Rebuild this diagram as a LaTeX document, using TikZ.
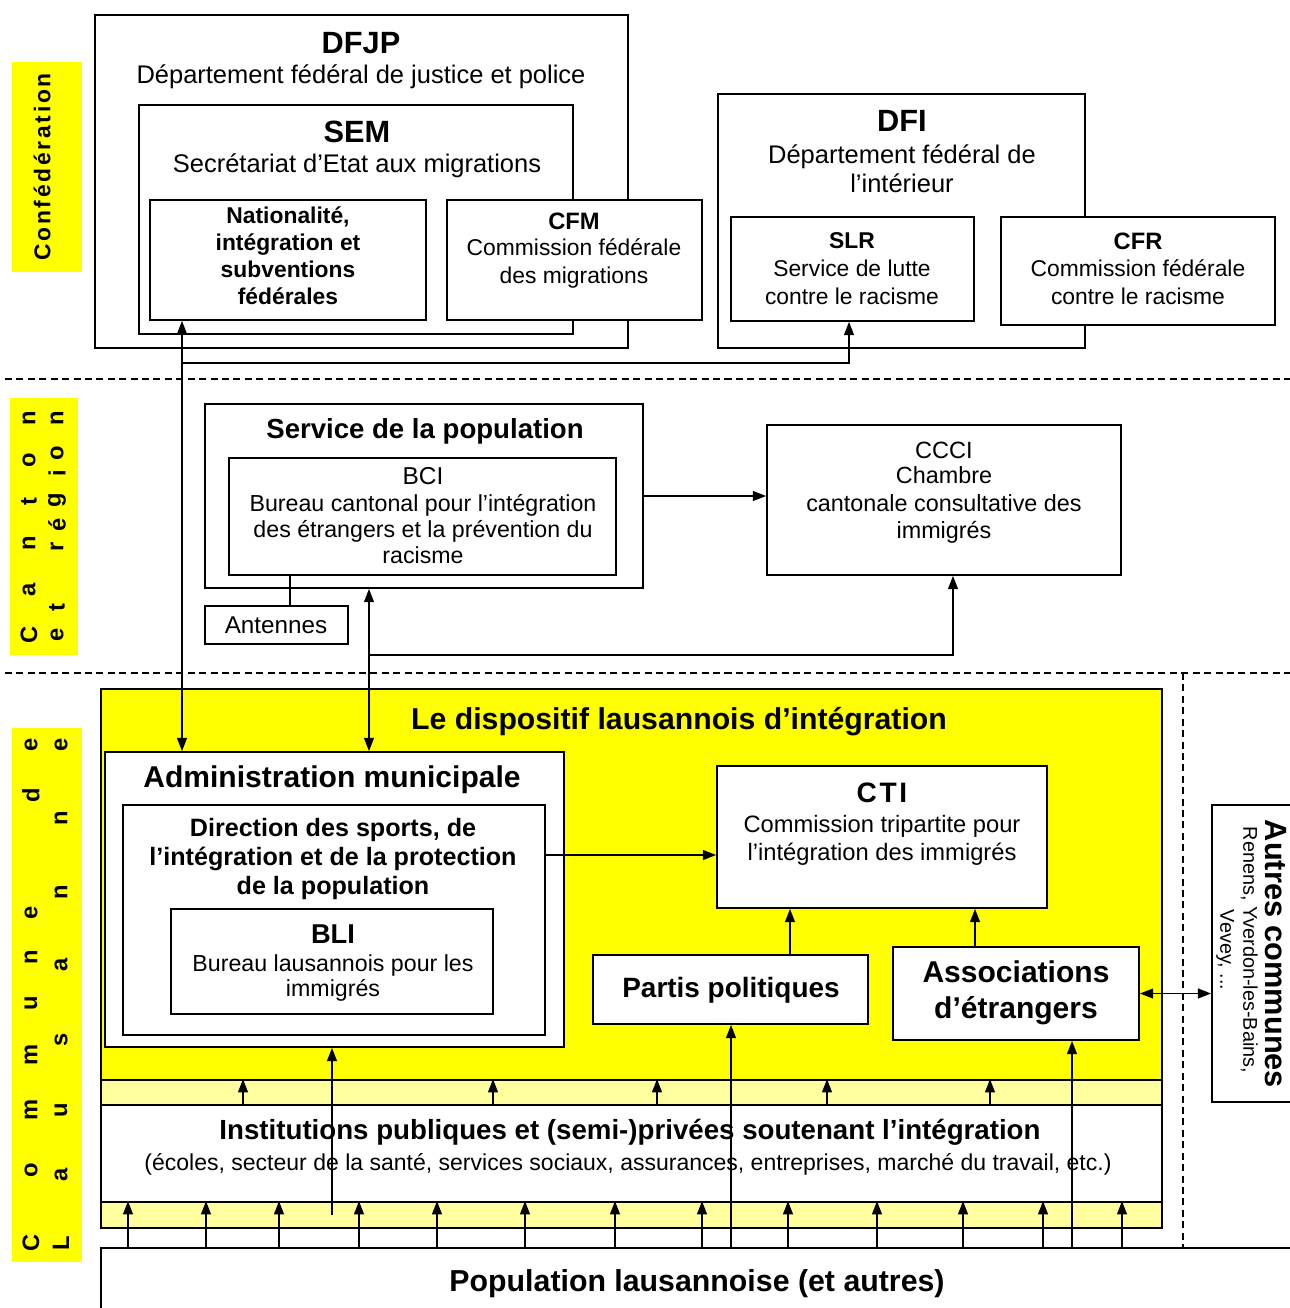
\documentclass[tikz,border=0pt]{standalone}
\usepackage{fontspec}
\setmainfont{Liberation Sans}
\usetikzlibrary{arrows.meta,fit}
\definecolor{yel}{RGB}{255,255,0}
\definecolor{paleyel}{RGB}{255,255,160}
\newcommand\myreg[2]{\fontsize{#1}{#2}\selectfont}
\newcommand\mybold[2]{\bfseries\fontsize{#1}{#2}\selectfont}
\begin{document}
\begin{tikzpicture}[x=0.02cm,y=-0.02cm,
 bx/.style={draw, line width=1pt, inner sep=0pt, fill=white},
 tx/.style={inner sep=0pt, align=center},
 arr/.style={line width=0.85pt, -{Triangle[length=7.5pt,width=5.6pt]}},
 darr/.style={line width=0.85pt, {Triangle[length=7.5pt,width=5.6pt]}-{Triangle[length=7.5pt,width=5.6pt]}},
 ln/.style={line width=0.85pt},
 sep/.style={line width=0.8pt, dash pattern=on 4pt off 2.5pt},
 lbl/.style={inner sep=0pt, rotate=90, font=\mybold{13.5}{15}},
]
\useasboundingbox (0,0) rectangle (1290,1308);
\fill[white] (0,0) rectangle (1290,1308);

% ---- level labels
\fill[yel] (12,62) rectangle (82,272);
\fill[yel] (10,398) rectangle (78,655);
\fill[yel] (12,728) rectangle (82,1262);
\node[lbl, font=\mybold{13}{15}\addfontfeature{LetterSpace=12}] (conf) at (42,167) {Confédération};
\foreach \c/\y [count=\i] in {C/635,a/590,n/543,t/502,o/460,n/418}
  \node[lbl] (cant\i) at (29,\y) {\c};
\foreach \c/\y [count=\i] in {e/635,t/608,r/547,é/525,g/500,i/473,o/453,n/418}
  \node[lbl] (reg\i) at (57,\y) {\c};
\foreach \c/\y [count=\i] in {C/1243,o/1170,m/1110,m/1055,u/1003,n/957,e/913,d/795,e/745}
  \node[lbl] (com\i) at (31,\y) {\c};
\foreach \c/\y [count=\i] in {L/1243,a/1175,u/1110,s/1040,a/965,n/892,n/818,e/745}
  \node[lbl] (lau\i) at (61,\y) {\c};

% ---- Confederation boxes
\node[bx, fit={(95,15) (628,348)}] (dfjp) {};
\node[bx, fit={(139,105) (573,334)}] (sem) {};
\node[bx, fit={(150,200) (426,320)}] (nat) {};
\node[bx, fit={(447,200) (702,320)}] (cfm) {};
\node[bx, fit={(718,94) (1085,348)}] (dfi) {};
\node[bx, fit={(731,217) (974,321)}] (slr) {};
\node[bx, fit={(1001,217) (1275,325)}] (cfr) {};

\node[tx,font=\mybold{17.5}{20}] (dfjpT) at (361,43) {DFJP};
\node[tx,font=\myreg{14.5}{17}] (dfjpS) at (361,77) {Département fédéral de justice et police};
\node[tx,font=\mybold{17.5}{20}] (semT) at (357,132) {SEM};
\node[tx,font=\myreg{14.5}{17}] (semS) at (357,166) {Secrétariat d'Etat aux migrations};
\node[tx,font=\mybold{13}{15.3}] (natT) at (288,256) {Nationalité,\\intégration et\\subventions\\fédérales};
\node[tx,font=\mybold{13.5}{16}] (cfmT) at (574,221) {CFM};
\node[tx,font=\myreg{13}{15.9}] (cfmS) at (574,263) {Commission fédérale\\des migrations};
\node[tx,font=\mybold{17.5}{20}] (dfiT) at (902,121) {DFI};
\node[tx,font=\myreg{14.5}{16.4}] (dfiS) at (902,169) {Département fédéral de\\l'intérieur};
\node[tx,font=\mybold{13}{15}] (slrT) at (852,241) {SLR};
\node[tx,font=\myreg{13}{15.9}] (slrS) at (852,282) {Service de lutte\\contre le racisme};
\node[tx,font=\mybold{13.5}{15}] (cfrT) at (1138,241) {CFR};
\node[tx,font=\myreg{13}{15.9}] (cfrS) at (1138,282) {Commission fédérale\\contre le racisme};

% ---- Canton boxes
\node[bx, fit={(205,404) (643,588)}] (svc) {};
\node[bx, fit={(229,458) (616,575)}] (bci) {};
\node[bx, fit={(205,606) (348,644)}] (ant) {};
\node[bx, fit={(767,425) (1121,575)}] (ccci) {};
\node[tx,font=\mybold{15.7}{18}] (svcT) at (425,431) {Service de la population};
\node[tx,font=\myreg{13.9}{16}] (bciT) at (423,476) {BCI};
\node[tx,font=\myreg{13.2}{15}] (bciS) at (423,529) {Bureau cantonal pour l'intégration\\des étrangers et la prévention du\\racisme};
\node[tx,font=\myreg{13.8}{16}] (antT) at (276,625) {Antennes};
\node[tx,font=\myreg{13.4}{16}] (ccciT) at (944,450) {CCCI};
\node[tx,font=\myreg{13.3}{15.9}] (ccciS) at (944,505) {Chambre\\cantonale consultative des\\immigrés};

% ---- separators
\draw[sep] (5,379) -- (1290,379);
\draw[sep] (5,673) -- (1290,673);
\draw[sep] (1183,673) -- (1183,1248);

% ---- Commune
\node[bx, fill=yel, fit={(101,689) (1162,1228)}] (disp) {};
\node[bx, fill=paleyel, fit={(101,1080) (1162,1105)}] (s1) {};
\node[bx, fit={(101,1105) (1162,1202)}] (inst) {};
\node[bx, fill=paleyel, fit={(101,1202) (1162,1228)}] (s2) {};
\node[bx, fit={(105,752) (564,1047)}] (adm) {};
\node[bx, fit={(123,805) (545,1035)}] (dir) {};
\node[bx, fit={(171,909) (493,1014)}] (bli) {};
\node[bx, fit={(717,766) (1047,908)}] (cti) {};
\node[bx, fit={(593,955) (868,1024)}] (partis) {};
\node[bx, fit={(893,947) (1139,1040)}] (assoc) {};
\node[bx, fit={(1212,805) (1300,1102)}] (autres) {};
\node[bx, fit={(101,1248) (1300,1330)}] (pop) {};

\node[tx,font=\mybold{17.2}{20}] (dispT) at (679,722) {Le dispositif lausannois d'intégration};
\node[tx,font=\mybold{17.1}{20}] (admT) at (332,780) {Administration municipale};
\node[tx,font=\mybold{14.3}{16.4}] (dirT) at (333,859) {Direction des sports, de\\l'intégration et de la protection\\de la population};
\node[tx,font=\mybold{15.5}{18}] (bliT) at (333,934) {BLI};
\node[tx,font=\myreg{13.2}{14.2}] (bliS) at (333,978) {Bureau lausannois pour les\\immigrés};
\node[tx,font=\mybold{16}{18}] (ctiT) at (882,793) {C\kern1.5pt T\kern1.5pt I};
\node[tx,font=\myreg{13.5}{15.9}] (ctiS) at (882,840) {Commission tripartite pour\\l'intégration des immigrés};
\node[tx,font=\mybold{15.9}{18}] (partisT) at (731,990) {Partis politiques};
\node[tx,font=\mybold{17.1}{20.4}] (assocT) at (1016,993) {Associations\\d'étrangers};
\node[tx,font=\mybold{15.75}{18}] (instT) at (630,1132) {Institutions publiques et (semi-)privées soutenant l'intégration};
\node[tx,font=\myreg{13.1}{15}] (instS) at (628,1164) {(écoles, secteur de la santé, services sociaux, assurances, entreprises, marché du travail, etc.)};
\node[tx,font=\mybold{17.25}{20}] (popT) at (697,1284) {Population lausannoise (et autres)};
\node[tx,rotate=-90,font=\mybold{17.5}{20}] (autT) at (1276,954) {Autres communes};
\node[tx,rotate=-90,font=\myreg{11.3}{13}] (autS) at (1237,950) {Renens, Yverdon-les-Bains,\\Vevey, ...};

% ---- connectors
\coordinate (xA) at (182,0);
\coordinate (yH1) at (0,363);
\coordinate (xB) at (849,0);
\coordinate (xAnt) at (290,0);
\coordinate (xC) at (369,0);
\coordinate (yH2) at (0,655);
\coordinate (xD) at (953,0);
\coordinate (yDir) at (0,855);
\coordinate (xE) at (790,0);
\coordinate (xF) at (975,0);
\coordinate (xP) at (731,0);
\coordinate (xQ) at (1072,0);
\coordinate (endG) at (332,1215);

\draw[darr] (nat.south -| xA) -- (adm.north -| xA);
\draw[arr] (xA |- yH1) -| (slr.south -| xB);
\draw[arr] (svc.east) -- (svc.east -| ccci.west);
\draw[ln] (bci.south -| xAnt) -- (ant.north -| xAnt);
\draw[darr] (svc.south -| xC) -- (adm.north -| xC);
\draw[arr] (xC |- yH2) -| (ccci.south -| xD);
\draw[arr] (dir.east |- yDir) -- (cti.west |- yDir);
\draw[arr] (partis.north -| xE) -- (cti.south -| xE);
\draw[arr] (assoc.north -| xF) -- (cti.south -| xF);
\draw[darr] (assoc.east) -- (assoc.east -| autres.west);
\foreach \x [count=\i] in {243,493,657,827,990} {
  \coordinate (ua\i) at (\x,0);
  \draw[arr] (inst.north -| ua\i) -- (s1.north -| ua\i);
}
\foreach \x [count=\i] in {128,206,279,359,437,525,615,702,788,877,963,1043,1122} {
  \coordinate (ub\i) at (\x,0);
  \draw[arr] (pop.north -| ub\i) -- (s2.north -| ub\i);
}
\draw[arr] (endG) -- (adm.south -| endG);
\draw[arr] (pop.north -| xP) -- (partis.south -| xP);
\draw[arr] (pop.north -| xQ) -- (assoc.south -| xQ);
\end{tikzpicture}
\end{document}
